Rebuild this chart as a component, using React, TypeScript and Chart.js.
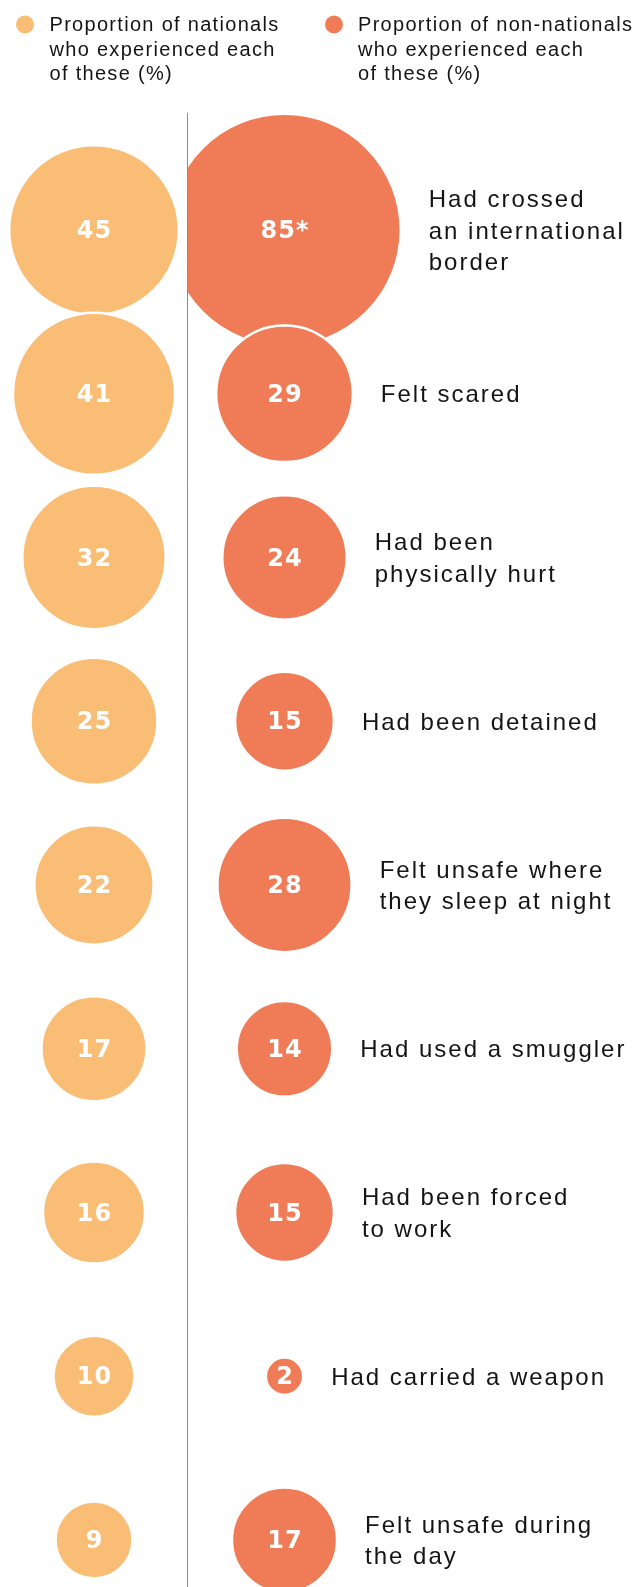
import React, { useEffect, useRef } from 'react';
import { Chart, registerables } from 'chart.js';

Chart.register(...registerables);

// ---- Data ----
const CATEGORIES: string[][] = [
  ['Had crossed', 'an international', 'border'],
  ['Felt scared'],
  ['Had been', 'physically hurt'],
  ['Had been detained'],
  ['Felt unsafe where', 'they sleep at night'],
  ['Had used a smuggler'],
  ['Had been forced', 'to work'],
  ['Had carried a weapon'],
  ['Felt unsafe during', 'the day'],
];
const NATIONALS: number[] = [45, 41, 32, 25, 22, 17, 16, 10, 9];
const NON_NATIONALS: number[] = [85, 29, 24, 15, 28, 14, 15, 2, 17];
const NON_NATIONAL_NOTES: string[] = ['*', '', '', '', '', '', '', '', ''];
const LEGEND_NATIONALS: string[] = ['Proportion of nationals', 'who experienced each', 'of these (%)'];
const LEGEND_NON_NATIONALS: string[] = ['Proportion of non-nationals', 'who experienced each', 'of these (%)'];

// ---- Style ----
const ORANGE = '#F9BD75';
const RED = '#EF7C57';
const TEXT = '#141414';
const R_PER_SQRT = 12.5;
const DIVIDER_X = 0.49;
const DIVIDER_TOP = -0.715;
const LABEL_GAP = 29;
const LABEL_LINE = 31.3;
const LABEL_FONT = '24px "Liberation Sans", Arial, sans-serif';
const VALUE_FONT = 'bold 24px "DejaVu Sans", sans-serif';
const LEGEND_FONT = '20px "Liberation Sans", Arial, sans-serif';

const W = 636;
const H = 1587;

function radiusFor(v: number) {
  return R_PER_SQRT * Math.sqrt(v) + 1;
}

const overlayPlugin = {
  id: 'overlay',
  beforeDatasetDraw(chart: any, args: any) {
    if (args.index !== 1) return;
    const { ctx, scales } = chart;
    const px = Math.round(scales.x.getPixelForValue(DIVIDER_X)) + 1;
    ctx.save();
    ctx.beginPath();
    ctx.rect(px, 0, chart.width - px, chart.height);
    ctx.clip();
  },
  afterDatasetDraw(chart: any, args: any) {
    if (args.index !== 1) return;
    chart.ctx.restore();
  },
  afterDatasetsDraw(chart: any) {
    const { ctx, scales } = chart;
    const xs = scales.x;
    const ys = scales.y;
    ctx.save();

    // divider
    const px = Math.round(xs.getPixelForValue(DIVIDER_X)) + 0.5;
    ctx.strokeStyle = '#8c8c8c';
    ctx.lineWidth = 1;
    ctx.beginPath();
    ctx.moveTo(px, ys.getPixelForValue(DIVIDER_TOP));
    ctx.lineTo(px, chart.height);
    ctx.stroke();

    // legend
    const legendItems = [
      { color: ORANGE, lines: LEGEND_NATIONALS, dotX: 25, textX: 49.5 },
      { color: RED, lines: LEGEND_NON_NATIONALS, dotX: 334, textX: 358 },
    ];
    legendItems.forEach((it) => {
      ctx.fillStyle = it.color;
      ctx.beginPath();
      ctx.arc(it.dotX, 24.5, 9, 0, Math.PI * 2);
      ctx.fill();
      ctx.fillStyle = TEXT;
      ctx.font = LEGEND_FONT;
      (ctx as any).letterSpacing = '1.3px';
      ctx.textAlign = 'left';
      ctx.textBaseline = 'alphabetic';
      it.lines.forEach((ln, i) => ctx.fillText(ln, it.textX, 31 + i * 24.5));
    });

    // values inside bubbles
    (ctx as any).letterSpacing = '1px';
    ctx.font = VALUE_FONT;
    ctx.fillStyle = '#ffffff';
    ctx.textAlign = 'center';
    ctx.textBaseline = 'alphabetic';
    chart.data.datasets.forEach((ds: any, di: number) => {
      const meta = chart.getDatasetMeta(di);
      meta.data.forEach((el: any, i: number) => {
        const raw = ds.data[i];
        const txt = String(raw.v) + (di === 1 ? NON_NATIONAL_NOTES[i] : '');
        ctx.fillText(txt, el.x + 0.5, el.y + 8);
      });
    });

    // category labels
    const meta1 = chart.getDatasetMeta(1);
    ctx.font = LABEL_FONT;
    (ctx as any).letterSpacing = '2px';
    ctx.fillStyle = TEXT;
    ctx.textAlign = 'left';
    CATEGORIES.forEach((lines, i) => {
      const el = meta1.data[i];
      const r = chart.data.datasets[1].data[i].r;
      const lx = el.x + r - 1 + LABEL_GAP;
      const first = el.y + 8.5 - ((lines.length - 1) / 2) * LABEL_LINE;
      lines.forEach((ln, k) => ctx.fillText(ln, lx, first + k * LABEL_LINE));
    });

    ctx.restore();
  },
};

export default function App() {
  const canvasRef = useRef<HTMLCanvasElement | null>(null);

  useEffect(() => {
    document.body.style.margin = '0';
    const canvas = canvasRef.current;
    if (!canvas) return;

    const natData = NATIONALS.map((v, i) => ({ x: 0, y: i, r: radiusFor(v), v }));
    const nonData = NON_NATIONALS.map((v, i) => ({ x: 1, y: i, r: radiusFor(v), v }));

    const chart = new Chart(canvas, {
      type: 'bubble',
      data: {
        datasets: [
          {
            label: 'Proportion of nationals who experienced each of these (%)',
            data: natData,
            backgroundColor: ORANGE,
            borderColor: '#ffffff',
            borderWidth: 2.5,
            hoverBorderWidth: 2.5,
          },
          {
            label: 'Proportion of non-nationals who experienced each of these (%)',
            data: nonData,
            backgroundColor: RED,
            borderColor: '#ffffff',
            borderWidth: 2.5,
            hoverBorderWidth: 2.5,
          },
        ],
      } as any,
      options: {
        animation: false,
        responsive: true,
        maintainAspectRatio: false,
        layout: { padding: 0, autoPadding: false },
        events: [],
        scales: {
          x: { type: 'linear', min: -0.49344, max: 2.84514, display: false },
          y: { type: 'linear', min: -1.40458, max: 8.28702, reverse: true, display: false },
        },
        plugins: {
          legend: { display: false },
          tooltip: { enabled: false },
        },
      } as any,
      plugins: [overlayPlugin],
    });

    return () => chart.destroy();
  }, []);

  return (
    <div style={{ position: 'relative', width: W, height: H }}>
      <canvas ref={canvasRef} />
    </div>
  );
}
